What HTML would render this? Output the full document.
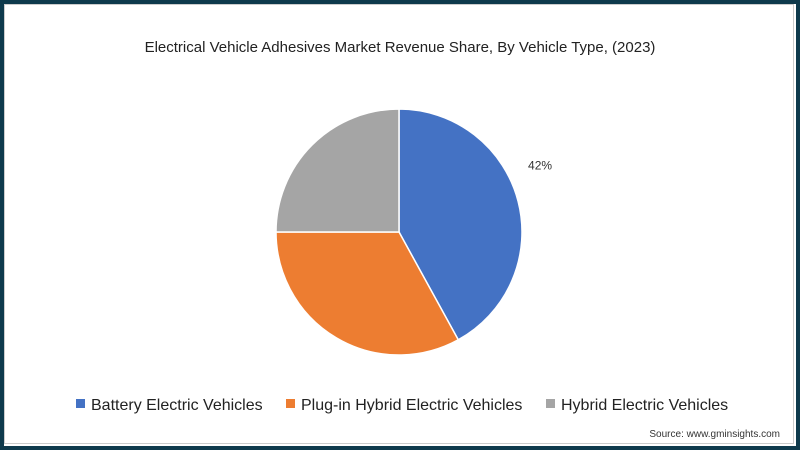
<!DOCTYPE html>
<html><head><meta charset="utf-8"><style>
body{margin:0;width:800px;height:450px;overflow:hidden;background:#fff;font-family:"Liberation Sans",sans-serif}
#frame{position:absolute;left:0;top:0;width:792px;height:442px;border:4px solid #0e3a4c;}
#inner{position:absolute;left:4px;top:4px;width:790px;height:440px;border:1px solid #ccc;box-sizing:border-box;pointer-events:none}
</style></head><body>
<div id="frame"></div>
<div id="inner"></div>
<svg width="800" height="450" style="position:absolute;left:0;top:0" id="chart">
<text x="400" y="52" text-anchor="middle" font-size="15" fill="#222">Electrical Vehicle Adhesives Market Revenue Share, By Vehicle Type, (2023)</text>
<g id="slices"></g>
<g id="legend"></g>
<text x="780" y="437" text-anchor="end" font-size="10" fill="#333">Source: www.gminsights.com</text>
</svg>
<script>
const categories=["Battery Electric Vehicles","Plug-in Hybrid Electric Vehicles","Hybrid Electric Vehicles"];
const values=[42,33,25];
const labels=["42%","",""];
const colors=["#4472c4","#ed7d31","#a5a5a5"];
const ns="http://www.w3.org/2000/svg";
const cx=399,cy=232,r=123;
const total=values.reduce((a,b)=>a+b,0);
const g=document.getElementById('slices');
let a0=0;
values.forEach((v,i)=>{
  const a1=a0+v/total*2*Math.PI;
  const p=a=>[cx+r*Math.sin(a),cy-r*Math.cos(a)];
  const [x0,y0]=p(a0),[x1,y1]=p(a1);
  const path=document.createElementNS(ns,'path');
  path.setAttribute('d',`M${cx},${cy}L${x0},${y0}A${r},${r} 0 ${a1-a0>Math.PI?1:0} 1 ${x1},${y1}Z`);
  path.setAttribute('fill',colors[i]);path.setAttribute('stroke','#fff');path.setAttribute('stroke-width','1.5');
  
  
  g.appendChild(path);
  if(labels[i]){
    const m=(a0+a1)/2-0.19, lr=r+33;
    const t=document.createElementNS(ns,'text');
    t.setAttribute('x',cx+lr*Math.sin(m));t.setAttribute('y',cy-lr*Math.cos(m)+4);
    t.setAttribute('font-size','12');t.setAttribute('fill','#333');t.setAttribute('text-anchor','middle');
    t.textContent=labels[i];
    
    
    g.appendChild(t);
  }
  a0=a1;
});
const lg=document.getElementById('legend');
const lx=[76,286,546];
categories.forEach((c,i)=>{
  const rc=document.createElementNS(ns,'rect');
  rc.setAttribute('x',lx[i]);rc.setAttribute('y',399);rc.setAttribute('width',9);rc.setAttribute('height',9);rc.setAttribute('fill',colors[i]);
  
  
  lg.appendChild(rc);
  const t=document.createElementNS(ns,'text');
  t.setAttribute('x',lx[i]+15);t.setAttribute('y',410);t.setAttribute('font-size','16');t.setAttribute('fill','#222');
  t.textContent=c;
  
  
  lg.appendChild(t);
});
</script>
</body></html>
